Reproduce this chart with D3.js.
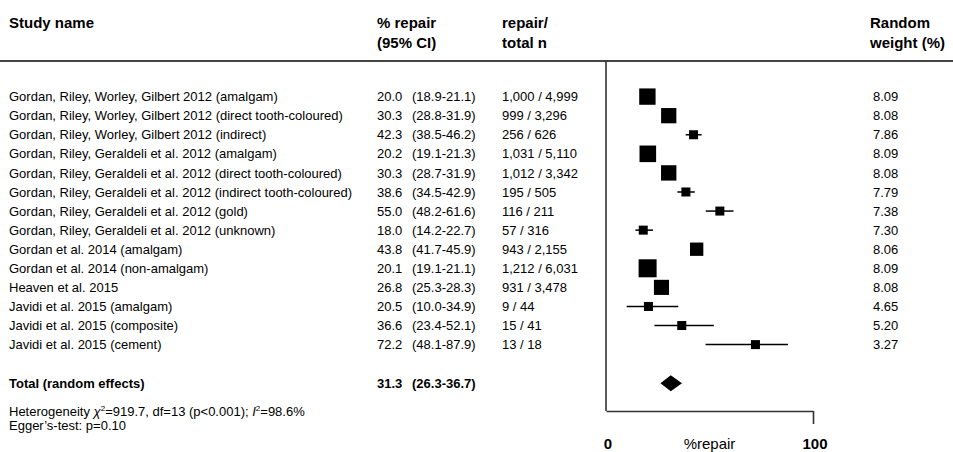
<!DOCTYPE html>
<html>
<head>
<meta charset="utf-8">
<script src="https://cdn.jsdelivr.net/npm/d3@7/dist/d3.min.js"></script>
<style>
  html, body { margin: 0; padding: 0; background: #fff; }
  svg { display: block; font-family: "Liberation Sans", Arial, sans-serif; }
</style>
</head>
<body>
<svg id="chart" width="953" height="452"></svg>
<script>
const studies = [
  "Gordan, Riley, Worley, Gilbert 2012 (amalgam)",
  "Gordan, Riley, Worley, Gilbert 2012 (direct tooth-coloured)",
  "Gordan, Riley, Worley, Gilbert 2012 (indirect)",
  "Gordan, Riley, Geraldeli et al. 2012 (amalgam)",
  "Gordan, Riley, Geraldeli et al. 2012 (direct tooth-coloured)",
  "Gordan, Riley, Geraldeli et al. 2012 (indirect tooth-coloured)",
  "Gordan, Riley, Geraldeli et al. 2012 (gold)",
  "Gordan, Riley, Geraldeli et al. 2012 (unknown)",
  "Gordan et al. 2014 (amalgam)",
  "Gordan et al. 2014 (non-amalgam)",
  "Heaven et al. 2015",
  "Javidi et al. 2015 (amalgam)",
  "Javidi et al. 2015 (composite)",
  "Javidi et al. 2015 (cement)"
];
const pct    = [20.0, 30.3, 42.3, 20.2, 30.3, 38.6, 55.0, 18.0, 43.8, 20.1, 26.8, 20.5, 36.6, 72.2];
const ciLow  = [18.9, 28.8, 38.5, 19.1, 28.7, 34.5, 48.2, 14.2, 41.7, 19.1, 25.3, 10.0, 23.4, 48.1];
const ciHigh = [21.1, 31.9, 46.2, 21.3, 31.9, 42.9, 61.6, 22.7, 45.9, 21.1, 28.3, 34.9, 52.1, 87.9];
const events = [1000, 999, 256, 1031, 1012, 195, 116, 57, 943, 1212, 931, 9, 15, 13];
const totals = [4999, 3296, 626, 5110, 3342, 505, 211, 316, 2155, 6031, 3478, 44, 41, 18];
const weights = [8.09, 8.08, 7.86, 8.09, 8.08, 7.79, 7.38, 7.30, 8.06, 8.09, 8.08, 4.65, 5.20, 3.27];
const pooled = [31.3, 26.3, 36.7]; // estimate, low, high
const axisTicks = [0, 100];
const axisTitle = "%repair";

const svg = d3.select("#chart");
svg.append("rect").attr("width", 953).attr("height", 452).attr("fill", "#fff");

const x = d3.scaleLinear().domain([0, 100]).range([606, 813]);
const y = d3.scaleLinear().domain([0, studies.length - 1]).range([96.6, 344.6]);
const totalY = 383.3;

const fixedW = events.map((e, i) => { const p = e / totals[i]; return totals[i] * p * (1 - p); });
const box = d3.scaleSqrt().domain([0, d3.max(fixedW)]).range([0, 18]);
const boxSize = i => Math.max(9, box(fixedW[i]));

const fmtN = d3.format(",");
const fmt1 = d3.format(".1f");
const fmt2 = d3.format(".2f");
const txt = "#000";

// headers
const hdr = svg.append("g").attr("font-size", 15).attr("font-weight", "bold").attr("fill", txt);
hdr.append("text").attr("x", 9).attr("y", 28).text("Study name");
hdr.append("text").attr("x", 377).attr("y", 28).text("% repair");
hdr.append("text").attr("x", 377).attr("y", 48).text("(95% CI)");
hdr.append("text").attr("x", 502).attr("y", 28).text("repair/");
hdr.append("text").attr("x", 502).attr("y", 48).text("total n");
hdr.append("text").attr("x", 870).attr("y", 28).text("Random");
hdr.append("text").attr("x", 870).attr("y", 48).text("weight (%)");

// header rule
svg.append("line").attr("x1", 0).attr("x2", 953).attr("y1", 61).attr("y2", 61)
  .attr("stroke", "#444").attr("stroke-width", 2);

// vertical axis line at 0
svg.append("line").attr("x1", x(0)).attr("x2", x(0)).attr("y1", 61).attr("y2", 411)
  .attr("stroke", "#333").attr("stroke-width", 1.6);

// bottom axis
const axis = d3.axisBottom(x).tickValues([100]).tickSize(13).tickSizeOuter(0).tickFormat("");
const ax = svg.append("g").attr("transform", "translate(0,411)").call(axis);
ax.select(".domain").attr("stroke", "#333").attr("stroke-width", 1.6);
ax.selectAll(".tick line").attr("stroke", "#333").attr("stroke-width", 1.6);

svg.append("g").attr("font-size", 15).attr("font-weight", "bold").attr("fill", txt)
  .selectAll("text").data(axisTicks).join("text")
  .attr("x", d => x(d) + 2).attr("y", 448.5).attr("text-anchor", "middle").text(d => d);
svg.append("text").attr("x", x(50)).attr("y", 448.5).attr("text-anchor", "middle")
  .attr("font-size", 15).attr("fill", txt).text(axisTitle);

// rows
const rows = svg.append("g").attr("font-size", 13).attr("fill", txt);
studies.forEach((s, i) => {
  const yy = y(i) + 4.6;
  rows.append("text").attr("x", 9).attr("y", yy).text(s);
  rows.append("text").attr("x", 377).attr("y", yy).text(fmt1(pct[i]));
  rows.append("text").attr("x", 412).attr("y", yy).text("(" + fmt1(ciLow[i]) + "-" + fmt1(ciHigh[i]) + ")");
  rows.append("text").attr("x", 502).attr("y", yy).text(fmtN(events[i]) + " / " + fmtN(totals[i]));
  rows.append("text").attr("x", 873).attr("y", yy).text(fmt2(weights[i]));
});

// markers
const marks = svg.append("g");
marks.selectAll("line.ci").data(studies).join("line").attr("class", "ci")
  .attr("x1", (d, i) => x(ciLow[i])).attr("x2", (d, i) => x(ciHigh[i]))
  .attr("y1", (d, i) => y(i)).attr("y2", (d, i) => y(i))
  .attr("stroke", "#000").attr("stroke-width", 1.5);
marks.selectAll("rect.box").data(studies).join("rect").attr("class", "box")
  .attr("x", (d, i) => x(pct[i]) - boxSize(i) / 2)
  .attr("y", (d, i) => y(i) - boxSize(i) / 2)
  .attr("width", (d, i) => boxSize(i)).attr("height", (d, i) => boxSize(i))
  .attr("fill", "#000");

// pooled diamond
const dh = 8;
svg.append("path")
  .attr("d", d3.line()([[x(pooled[1]), totalY], [x(pooled[0]), totalY - dh], [x(pooled[2]), totalY], [x(pooled[0]), totalY + dh]]) + "Z")
  .attr("fill", "#000");

// total row text
const tot = svg.append("g").attr("font-size", 13).attr("font-weight", "bold").attr("fill", txt);
tot.append("text").attr("x", 9).attr("y", totalY + 4.6).text("Total (random effects)");
tot.append("text").attr("x", 377).attr("y", totalY + 4.6).text(fmt1(pooled[0]));
tot.append("text").attr("x", 412).attr("y", totalY + 4.6).text("(" + fmt1(pooled[1]) + "-" + fmt1(pooled[2]) + ")");

// heterogeneity
const het = svg.append("text").attr("x", 9).attr("y", 416.3).attr("font-size", 13).attr("fill", txt);
het.append("tspan").text("Heterogeneity ");
het.append("tspan").attr("font-style", "italic").text("χ");
het.append("tspan").attr("font-size", 8).attr("dy", -5).text("2");
het.append("tspan").attr("dy", 5).text("=919.7, df=13 (p<0.001); ");
het.append("tspan").attr("font-style", "italic").text("I");
het.append("tspan").attr("font-size", 8).attr("dy", -5).text("2");
het.append("tspan").attr("dy", 5).text("=98.6%");
svg.append("text").attr("x", 9).attr("y", 430.3).attr("font-size", 13).attr("fill", txt)
  .text("Egger’s-test: p=0.10");
</script>
</body>
</html>
